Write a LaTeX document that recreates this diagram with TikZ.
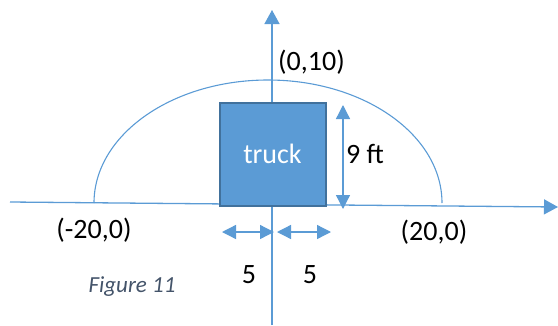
\documentclass[tikz,border=0pt]{standalone}
\usepackage{fontspec}
\setmainfont{Carlito}
\usetikzlibrary{arrows.meta}
\definecolor{ln}{HTML}{5B9BD5}
\definecolor{bx}{HTML}{5B9BD5}
\definecolor{bxd}{HTML}{41719C}
\definecolor{cap}{HTML}{44546A}
\begin{document}
\begin{tikzpicture}[x=1pt,y=-1pt,
 axis/.style={draw=ln, line width=1.3pt, -{Triangle[length=14pt,width=15pt]}},
 dim/.style={draw=ln, line width=1.3pt, {Triangle[length=14pt,width=14pt]}-{Triangle[length=14pt,width=14pt]}},
 lbl/.style={font=\fontsize{28}{30}\selectfont, inner sep=0pt}]
\useasboundingbox (0,0) rectangle (558,325);
\coordinate (yb) at (272,325);
\coordinate (yt) at (272,10);
\coordinate (xl) at (10,202);
\coordinate (xr) at (558,207);
\draw[axis] (yb) -- (yt);
\draw[axis] (xl) -- (xr);
\draw[ln, line width=1.1pt] (94,203) arc[start angle=180,end angle=360,x radius=174,y radius=123];
\node[draw=bxd, fill=bx, line width=2pt, minimum width=106pt, minimum height=103pt, inner sep=0pt, text=white, lbl] (truck) at (272.5,154) {truck};
\coordinate (ht) at (343,105);
\coordinate (hb) at (343,209);
\draw[dim] (hb) -- (ht);
\coordinate (a1l) at (222,232);
\coordinate (a1r) at (274,232);
\coordinate (a2l) at (277,232);
\coordinate (a2r) at (331,232);
\draw[dim] (a1l) -- (a1r);
\draw[dim] (a2l) -- (a2r);
\node[lbl] (l010) at (311.5,62) {(0,10)};
\node[lbl] (lm20) at (94,230) {(-20,0)};
\node[lbl] (l20) at (434,232) {(20,0)};
\node[lbl, anchor=west] (l9) at (346,154) {9 ft};
\node[lbl] (l5a) at (249,275) {5};
\node[lbl] (l5b) at (310,275) {5};
\node[font=\fontsize{23}{25}\selectfont\itshape, text=cap, inner sep=0pt] (fig) at (132,287) {Figure 11};
\end{tikzpicture}
\end{document}
